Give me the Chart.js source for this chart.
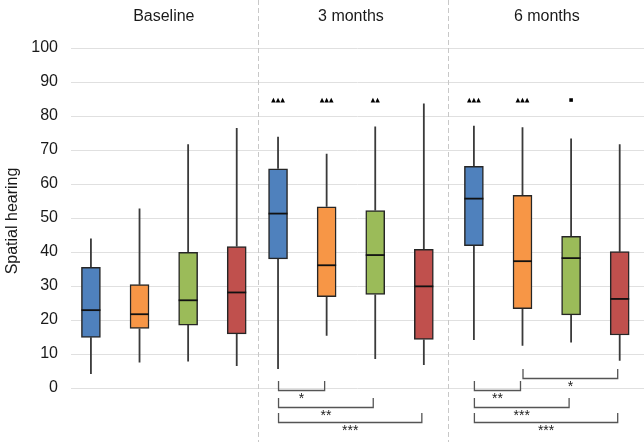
<!DOCTYPE html>
<html>
<head>
<meta charset="utf-8">
<script src="https://cdn.jsdelivr.net/npm/chart.js@4/dist/chart.umd.min.js"></script>
<style>
  body { margin: 0; background: #fff; }
  #wrap { width: 644px; height: 442px; }
</style>
</head>
<body>
<div id="wrap"><canvas id="myChart" width="644" height="442"></canvas></div>
<script>
// data: [min, q1, median, q3, max] for each time point
const categories = ["Baseline", "3 months", "6 months"];
const yTicks = [0, 10, 20, 30, 40, 50, 60, 70, 80, 90, 100];

const blueBoxes = [[4.1, 14.9, 22.9, 35.5, 44.0], [5.6, 38.0, 51.3, 64.5, 73.9], [14.1, 41.9, 55.7, 65.2, 77.1]];
const orangeBoxes = [[7.5, 17.5, 21.7, 30.4, 52.8], [15.4, 26.9, 36.1, 53.3, 68.9], [12.4, 23.3, 37.3, 56.7, 76.7]];
const greenBoxes = [[7.8, 18.5, 25.8, 39.9, 71.7], [8.5, 27.5, 39.1, 52.2, 76.9], [13.4, 21.5, 38.2, 44.6, 73.4]];
const redBoxes = [[6.5, 15.9, 28.1, 41.6, 76.5], [6.8, 14.3, 29.9, 40.8, 83.7], [8.0, 15.6, 26.2, 40.1, 71.7]];

// markers vs baseline, per time point and box
const sigMarkers = [
  ["", "", "", ""],
  ["▲▲▲", "▲▲▲", "▲▲", ""],
  ["▲▲▲", "▲▲▲", "■", ""],
];
const markerValue = 84.7;

// brackets: [time point, from box, to box, row, label]
const brackets = [
  [1, 0, 1, 1, "*"],
  [1, 0, 2, 2, "**"],
  [1, 0, 3, 3, "***"],
  [2, 1, 3, 0, "*"],
  [2, 0, 1, 1, "**"],
  [2, 0, 2, 2, "***"],
  [2, 0, 3, 3, "***"],
];

// layout
const allBoxes = [blueBoxes, orangeBoxes, greenBoxes, redBoxes];
const colors = ["#4f81bd", "#f79646", "#9bbb59", "#c0504d"];
const groupOffsets = [0, 3.85, 7.88];
const separators = [3.44, 7.35];
const bracketRows = [3.0, -0.6, -5.5, -10.0];
const FONT = "'Liberation Sans', Arial, sans-serif";

const datasets = allBoxes.map((boxes, i) => ({
  data: boxes.map((b, g) => ({ x: groupOffsets[g] + i, y: [b[1], b[3]] })),
  backgroundColor: colors[i],
  borderColor: "#262626",
  borderWidth: 1.5,
  borderSkipped: false,
  barThickness: 19,
  grouped: false,
}));

const extras = {
  id: "extras",
  beforeDatasetsDraw(chart) {
    const { ctx } = chart;
    const x = chart.scales.x;
    const y = chart.scales.y;
    ctx.save();
    // dashed separators
    ctx.strokeStyle = "#c8c8c8";
    ctx.lineWidth = 1;
    ctx.setLineDash([5, 3]);
    separators.forEach((s) => {
      const px = Math.round(x.getPixelForValue(s)) + 0.5;
      ctx.beginPath();
      ctx.moveTo(px, 0);
      ctx.lineTo(px, chart.height);
      ctx.stroke();
    });
    ctx.setLineDash([]);
    // whiskers
    ctx.strokeStyle = "#3a3a3a";
    ctx.lineWidth = 1.8;
    allBoxes.forEach((boxes, i) => {
      boxes.forEach((b, g) => {
        const px = x.getPixelForValue(groupOffsets[g] + i);
        ctx.beginPath();
        ctx.moveTo(px, y.getPixelForValue(b[0]));
        ctx.lineTo(px, y.getPixelForValue(b[1]));
        ctx.moveTo(px, y.getPixelForValue(b[3]));
        ctx.lineTo(px, y.getPixelForValue(b[4]));
        ctx.stroke();
      });
    });
    ctx.restore();
  },
  afterDatasetsDraw(chart) {
    const { ctx } = chart;
    const x = chart.scales.x;
    const y = chart.scales.y;
    ctx.save();
    // medians
    ctx.strokeStyle = "#111";
    ctx.lineWidth = 1.8;
    allBoxes.forEach((boxes, i) => {
      boxes.forEach((b, g) => {
        const px = x.getPixelForValue(groupOffsets[g] + i);
        const py = y.getPixelForValue(b[2]);
        ctx.beginPath();
        ctx.moveTo(px - 9.5, py);
        ctx.lineTo(px + 9.5, py);
        ctx.stroke();
      });
    });
    // group titles
    ctx.fillStyle = "#1a1a1a";
    ctx.font = "16px " + FONT;
    ctx.textAlign = "center";
    ctx.textBaseline = "middle";
    categories.forEach((c, g) => {
      ctx.fillText(c, x.getPixelForValue(groupOffsets[g] + 1.5), 17);
    });
    // markers
    const my = y.getPixelForValue(markerValue);
    ctx.fillStyle = "#000";
    sigMarkers.forEach((row, g) => {
      row.forEach((m, i) => {
        const n = m.length;
        if (!n) return;
        const cx = x.getPixelForValue(groupOffsets[g] + i);
        for (let k = 0; k < n; k++) {
          const sx = cx + (k - (n - 1) / 2) * 4.6;
          ctx.beginPath();
          if (m[k] === "■") {
            ctx.rect(sx - 1.8, my - 1.8, 3.6, 3.6);
          } else {
            ctx.moveTo(sx - 2.3, my + 2.4);
            ctx.lineTo(sx + 2.3, my + 2.4);
            ctx.lineTo(sx, my - 2.4);
            ctx.closePath();
          }
          ctx.fill();
        }
      });
    });
    // brackets
    ctx.strokeStyle = "#555";
    ctx.lineWidth = 1.3;
    ctx.fillStyle = "#222";
    ctx.font = "14px " + FONT;
    ctx.textBaseline = "top";
    brackets.forEach(([g, a, b, row, label]) => {
      const x1 = x.getPixelForValue(groupOffsets[g] + a) + 0.5;
      const x2 = x.getPixelForValue(groupOffsets[g] + b) - 2;
      const py = Math.round(y.getPixelForValue(bracketRows[row])) + 0.5;
      ctx.beginPath();
      ctx.moveTo(x1, py - 9.5);
      ctx.lineTo(x1, py);
      ctx.lineTo(x2, py);
      ctx.lineTo(x2, py - 9.5);
      ctx.stroke();
      ctx.fillText(label, (x1 + x2) / 2, py + 2);
    });
    ctx.restore();
  },
};

new Chart(document.getElementById("myChart"), {
  type: "bar",
  data: { datasets: datasets },
  options: {
    responsive: false,
    animation: false,
    layout: { padding: 0 },
    plugins: {
      legend: { display: false },
      tooltip: { enabled: false },
    },
    scales: {
      x: {
        type: "linear",
        min: -0.41,
        max: 11.38,
        offset: false,
        display: false,
      },
      y: {
        min: -15.88,
        max: 114.12,
        afterBuildTicks: (axis) => {
          axis.ticks = yTicks.map((v) => ({ value: v }));
        },
        afterFit: (axis) => {
          axis.width = 71;
          axis.paddingTop = 0;
          axis.paddingBottom = 0;
        },
        grid: { color: "#e0e0e0", drawTicks: false },
        border: { display: false },
        ticks: {
          padding: 13,
          color: "#1a1a1a",
          font: { family: FONT, size: 16 },
        },
        title: {
          display: true,
          text: "Spatial hearing",
          color: "#1a1a1a",
          font: { family: FONT, size: 16 },
          padding: { top: 3, bottom: 0 },
        },
      },
    },
  },
  plugins: [extras],
});
</script>
</body>
</html>
